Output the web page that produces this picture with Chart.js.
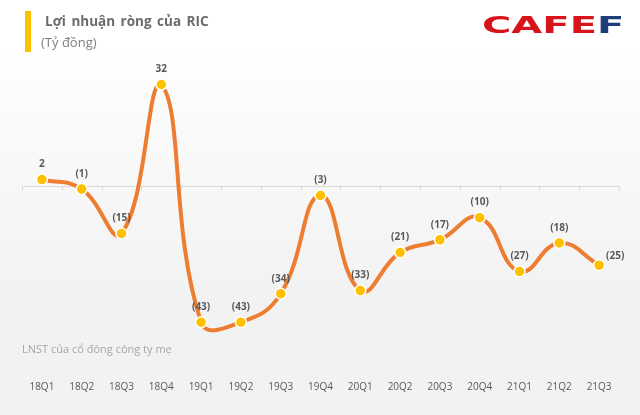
<!DOCTYPE html>
<html>
<head>
<meta charset="utf-8">
<script src="https://cdn.jsdelivr.net/npm/chart.js@4"></script>
<style>
  html, body { margin: 0; padding: 0; }
  body { width: 640px; height: 415px; position: relative; overflow: hidden;
    background: linear-gradient(to bottom, #ffffff 0px, #ffffff 50px, #fcfcfc 90px, #f2f2f2 300px, #f2f2f2 415px);
    font-family: "Open Sans", "Noto Sans", sans-serif; }
  #wrap { position: absolute; left: 0; top: 0; width: 640px; height: 415px; }
  .bar { position: absolute; left: 25px; top: 11px; width: 6px; height: 41px; background: #FFC000; }
  .title { position: absolute; left: 45px; top: 12px; font-size: 13.5px; font-weight: bold; color: #6b6b6b; word-spacing: 2px; }
  .sub { position: absolute; left: 41px; top: 33px; font-size: 13px; color: #7f7f7f; }
  .logo { position: absolute; left: 482px; top: 12px; font-family: "DejaVu Sans", sans-serif; font-weight: bold; font-size: 23px; line-height: 26px; transform: scaleX(1.74); transform-origin: left top; white-space: nowrap; }
  .logo .r { color: #d7141c; }
  .logo .b { color: #1f3d7a; }
  .note { position: absolute; left: 22px; top: 341px; font-size: 11px; color: #a6a6a6; }
</style>
</head>
<body>
<div id="wrap"><canvas id="c" width="640" height="415"></canvas></div>
<div class="bar"></div>
<div class="title">Lợi nhuận ròng của RIC</div>
<div class="sub">(Tỷ đồng)</div>
<div class="logo"><span class="r">CAFE</span><span class="b">F</span></div>
<div class="note">LNST của cổ đông công ty mẹ</div>
<script>
const categories = ["18Q1","18Q2","18Q3","18Q4","19Q1","19Q2","19Q3","19Q4","20Q1","20Q2","20Q3","20Q4","21Q1","21Q2","21Q3"];
const profit = [2, -1, -15, 32, -43, -43, -34, -3, -33, -21, -17, -10, -27, -18, -25];

function fmt(v) { return v < 0 ? "(" + Math.abs(v) + ")" : String(v); }

const zeroLine = {
  id: "zeroLine",
  beforeDatasetsDraw(chart) {
    const {ctx, chartArea, scales} = chart;
    const y0 = Math.round(scales.y.getPixelForValue(0)) + 0.5;
    ctx.save();
    ctx.strokeStyle = "#d9d9d9";
    ctx.lineWidth = 1;
    ctx.beginPath();
    ctx.moveTo(chartArea.left, y0);
    ctx.lineTo(chartArea.right, y0);
    const n = categories.length;
    for (let i = 0; i <= n; i++) {
      const x = Math.round(chartArea.left + (chartArea.right - chartArea.left) * i / n) + 0.5;
      ctx.moveTo(x, y0);
      ctx.lineTo(x, y0 + 4);
    }
    ctx.stroke();
    ctx.restore();
  }
};

const labels = {
  id: "labels",
  afterDatasetsDraw(chart) {
    const {ctx} = chart;
    const meta = chart.getDatasetMeta(0);
    ctx.save();
    ctx.font = "bold 10px 'Open Sans', sans-serif";
    ctx.fillStyle = "#595959";
    ctx.textBaseline = "middle";
    meta.data.forEach((pt, i) => {
      const t = fmt(profit[i]);
      if (i === profit.length - 1) {
        ctx.textAlign = "left";
        ctx.fillText(t, pt.x + 7, pt.y - 9);
      } else {
        ctx.textAlign = "center";
        ctx.fillText(t, pt.x, pt.y - 15);
      }
    });
    ctx.restore();
  }
};

new Chart(document.getElementById("c"), {
  type: "line",
  data: {
    labels: categories,
    datasets: [{
      data: profit,
      borderColor: "#ED7D31",
      borderWidth: 4,
      tension: 0.45,
      pointBackgroundColor: "#FFC000",
      pointBorderColor: "#ffffff",
      pointBorderWidth: 1.5,
      pointRadius: 5.5,
      clip: false
    }]
  },
  options: {
    responsive: false,
    animation: false,
    events: [],
    layout: { padding: { left: 22, right: 21, top: 75, bottom: 17 } },
    plugins: { legend: { display: false }, tooltip: { enabled: false } },
    scales: {
      x: {
        offset: true,
        grid: { display: false, drawTicks: false },
        border: { display: false },
        afterFit(s) { s.height = 20; },
        ticks: { padding: 3, color: "#595959", font: { size: 10, family: "'Open Sans', sans-serif" }, maxRotation: 0, autoSkip: false }
      },
      y: {
        display: false,
        min: -60.6,
        max: 35
      }
    }
  },
  plugins: [zeroLine, labels]
});
</script>
</body>
</html>
